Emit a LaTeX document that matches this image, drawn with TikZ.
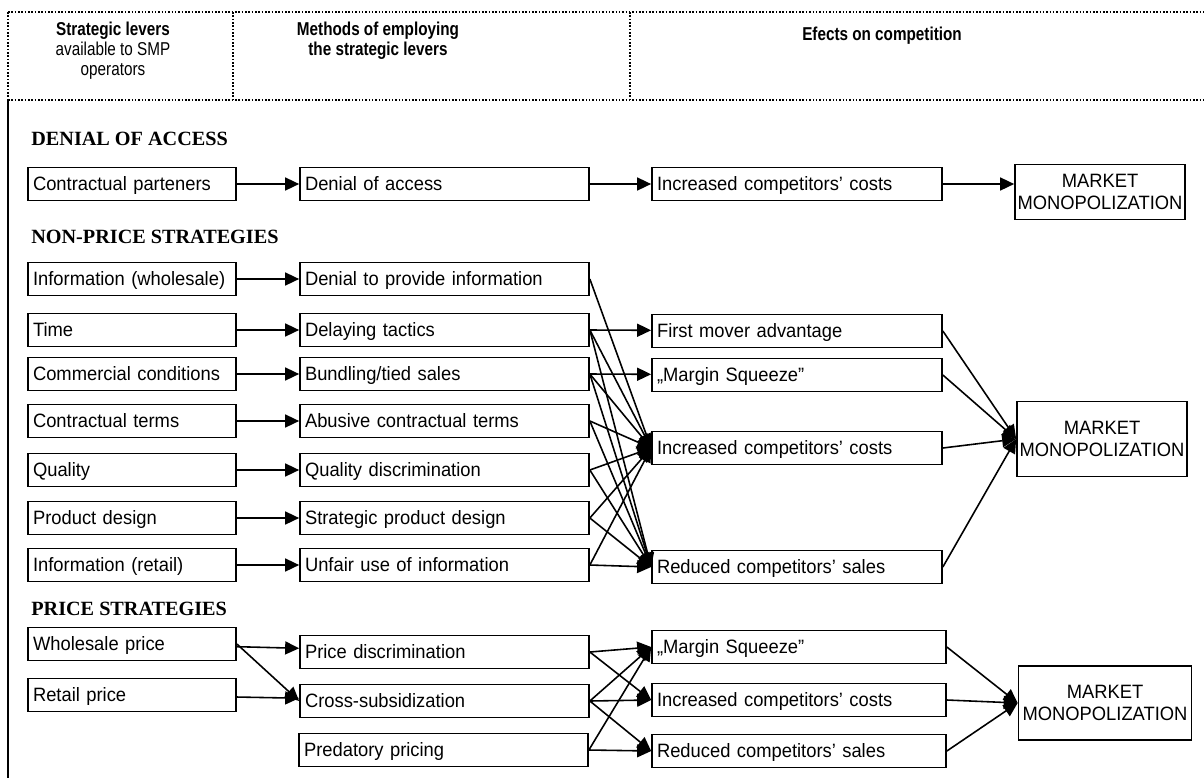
\documentclass[tikz,border=0pt]{standalone}
\usepackage{fontspec}
\usepackage{tikz}
\usetikzlibrary{arrows.meta}
\setmainfont{Liberation Sans}
\newfontfamily\narrowfont{Liberation Sans}[FakeStretch=0.82]
\newfontfamily\boxfamily{Liberation Sans}[FakeStretch=0.95]
\newfontfamily\titlefont{Liberation Serif}
\newcommand{\boxfont}{\boxfamily\fontsize{11}{12.5}\selectfont}
\newcommand{\headfont}{\narrowfont\fontsize{10.6}{11.2}\selectfont}
\newcommand{\partfont}{\titlefont\bfseries\fontsize{11.5}{13}\selectfont}

\tikzset{
  frame/.style={line width=0.9pt, densely dotted},
  lever/.style={draw, line width=1pt, font=\boxfont, align=left, inner xsep=0.1cm,
    text width=3.96cm, text height=9pt, text depth=1.3pt, minimum height=0.66cm},
  method/.style={lever, text width=5.58cm},
  effect/.style={lever, text width=5.6cm},
  market/.style={draw, line width=1pt, font=\boxfont, align=center, inner sep=0.05cm,
    minimum width=3.32cm, minimum height=1.1cm},
  part/.style={anchor=west, inner sep=0, font=\partfont},
  conn/.style={-{Triangle[length=0.28cm,width=0.26cm]}, line width=0.9pt}
}

\begin{document}
\begin{tikzpicture}[x=0.02cm, y=-0.02cm]
\useasboundingbox (0,0) rectangle (1204,778);
% header
\draw[frame] (8,12) -- (1204,12);
\draw[frame] (8,100) -- (1204,100);
\draw[frame] (8,12) -- (8,100);
\draw[frame] (233,12) -- (233,100);
\draw[frame] (630,12) -- (630,100);
\draw[line width=0.8pt] (8,100) -- (8,778);
\node[anchor=north, align=center, inner sep=0, font=\headfont] (hlevers) at (113,22)
  {\bfseries Strategic levers\\available to SMP\\operators};
\node[anchor=north, align=center, inner sep=0, font=\headfont\bfseries] (hmethods) at (378,22)
  {Methods of employing\\the strategic levers};
\node[anchor=north, align=center, inner sep=0, font=\headfont\bfseries] (heffects) at (882,27)
  {Efects on competition};

% denial of access
\node[part] (pdenial) at (31,139) {DENIAL OF ACCESS};
\node[lever] (partners) at (132,184) {Contractual parteners};
\node[method] (denial) at (444.5,184) {Denial of access};
\node[effect] (costsA) at (797,184) {Increased competitors’ costs};
\node[market] (marketA) at (1100,192) {MARKET\\MONOPOLIZATION};
\draw[conn] (partners) -- (denial);
\draw[conn] (denial) -- (costsA);
\draw[conn] (costsA.east) -- (marketA.west |- costsA.east);

% non-price strategies
\node[part] (pnonprice) at (31,237) {NON-PRICE STRATEGIES};
\node[lever] (infowh) at (132,279) {Information (wholesale)};
\node[lever] (time) at (132,330) {Time};
\node[lever] (commerc) at (132,374) {Commercial conditions};
\node[lever] (terms) at (132,421) {Contractual terms};
\node[lever] (quality) at (132,470) {Quality};
\node[lever] (design) at (132,518) {Product design};
\node[lever] (inforet) at (132,565) {Information (retail)};

\node[method] (noinfo) at (444.5,279) {Denial to provide information};
\node[method] (delay) at (444.5,330) {Delaying tactics};
\node[method] (bundle) at (444.5,374) {Bundling/tied sales};
\node[method] (abuse) at (444.5,421) {Abusive contractual terms};
\node[method] (qdiscr) at (444.5,470) {Quality discrimination};
\node[method] (sdesign) at (444.5,518) {Strategic product design};
\node[method] (unfair) at (444.5,565) {Unfair use of information};

\node[effect] (mover) at (797,331) {First mover advantage};
\node[effect] (squeezeB) at (797,375) {„Margin Squeeze”};
\node[effect] (costsB) at (797,448) {Increased competitors’ costs};
\node[effect] (salesB) at (797,567) {Reduced competitors’ sales};
\node[market, minimum height=1.5cm, minimum width=3.34cm] (marketB) at (1102,439) {MARKET\\MONOPOLIZATION};

\draw[conn] (infowh) -- (noinfo);
\draw[conn] (time) -- (delay);
\draw[conn] (commerc) -- (bundle);
\draw[conn] (terms) -- (abuse);
\draw[conn] (quality) -- (qdiscr);
\draw[conn] (design) -- (sdesign);
\draw[conn] (inforet) -- (unfair);

\draw[conn] (delay.east) -- (mover);
\draw[conn] (bundle.east) -- (squeezeB);
\draw[conn] (noinfo.east) -- (costsB.west);
\draw[conn] (delay.east) -- (costsB.west);
\draw[conn] (delay.east) -- (salesB.west);
\draw[conn] (bundle.east) -- (costsB.west);
\draw[conn] (bundle.east) -- (salesB.west);
\draw[conn] (abuse.east) -- (costsB.west);
\draw[conn] (abuse.east) -- (salesB.west);
\draw[conn] (qdiscr.east) -- (costsB.west);
\draw[conn] (qdiscr.east) -- (salesB.west);
\draw[conn] (sdesign.east) -- (costsB.west);
\draw[conn] (sdesign.east) -- (salesB.west);
\draw[conn] (unfair.east) -- (costsB.west);
\draw[conn] (unfair.east) -- (salesB.west);

\draw[conn] (mover.east) -- (marketB.west);
\draw[conn] (squeezeB.east) -- (marketB.west);
\draw[conn] (costsB.east) -- (marketB.west);
\draw[conn] (salesB.east) -- (marketB.west);

% price strategies
\node[part] (pprice) at (31,609) {PRICE STRATEGIES};
\node[lever] (wholesale) at (132,644) {Wholesale price};
\node[lever] (retail) at (132,695) {Retail price};

\node[method] (pdiscr) at (444.5,652) {Price discrimination};
\node[method] (cross) at (444.5,701) {Cross-subsidization};
\node[method] (predat) at (443.5,750) {Predatory pricing};

\node[effect, text width=5.68cm] (squeezeC) at (799,647) {„Margin Squeeze”};
\node[effect, text width=5.68cm] (costsC) at (799,700) {Increased competitors’ costs};
\node[effect, text width=5.68cm] (salesC) at (799,751) {Reduced competitors’ sales};
\node[market, minimum height=1.48cm, minimum width=3.46cm] (marketC) at (1105,703) {MARKET\\MONOPOLIZATION};

\draw[conn] (wholesale) -- (pdiscr);
\draw[conn] (wholesale.east) -- (cross.west);
\draw[conn] (retail) -- (cross);

\draw[conn] (pdiscr.east) -- (squeezeC.west);
\draw[conn] (pdiscr.east) -- (costsC.west);
\draw[conn] (cross.east) -- (squeezeC.west);
\draw[conn] (cross.east) -- (costsC.west);
\draw[conn] (cross.east) -- (salesC.west);
\draw[conn] (predat.east) -- (squeezeC.west);
\draw[conn] (predat.east) -- (salesC.west);

\draw[conn] (squeezeC.east) -- (marketC.west);
\draw[conn] (costsC.east) -- (marketC.west);
\draw[conn] (salesC.east) -- (marketC.west);
\end{tikzpicture}
\end{document}
